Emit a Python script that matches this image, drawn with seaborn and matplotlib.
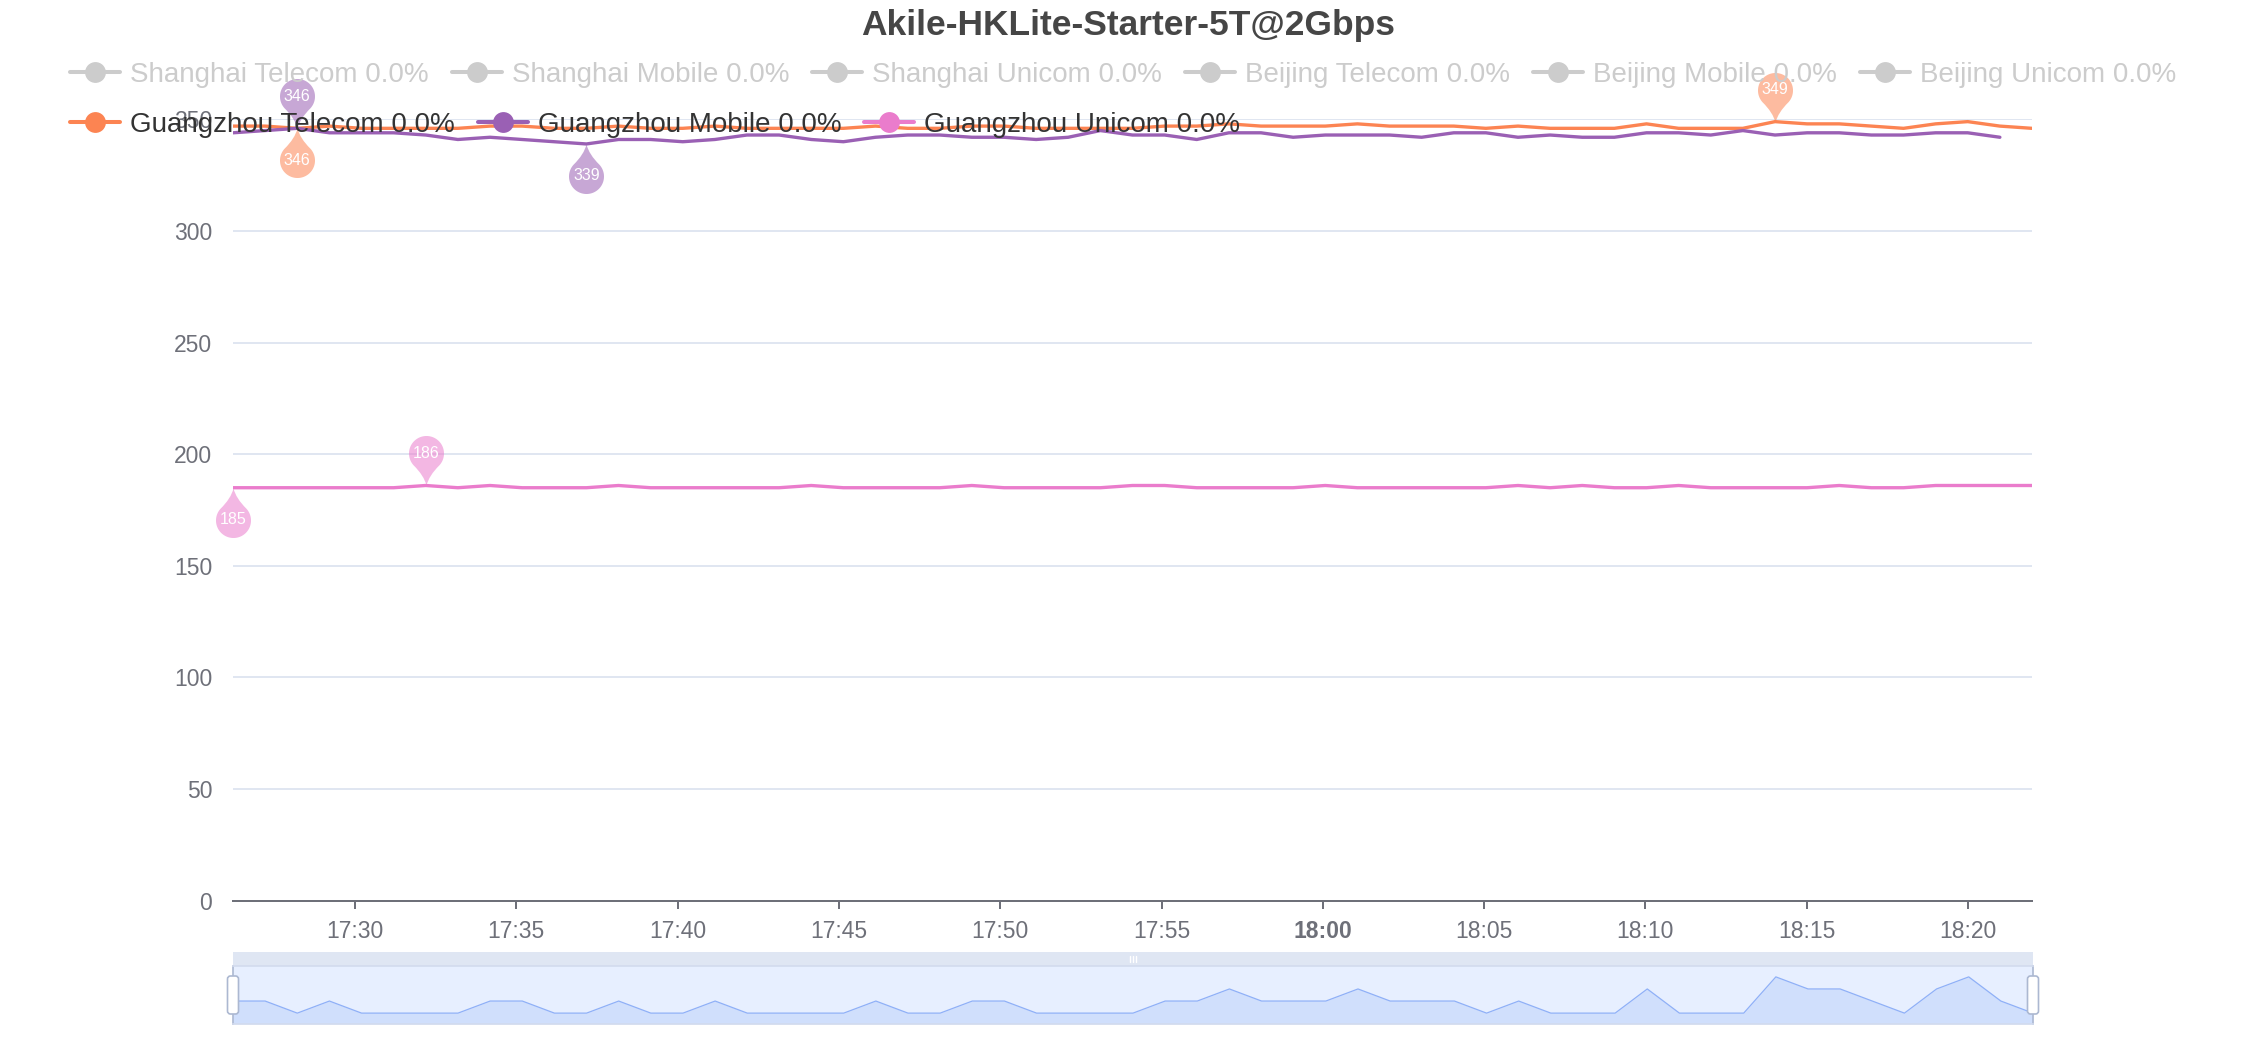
import numpy as np
import pandas as pd
import matplotlib
matplotlib.use("Agg")
import matplotlib.pyplot as plt
import matplotlib.dates as mdates
import seaborn as sns
from matplotlib.lines import Line2D
from matplotlib.path import Path
from matplotlib.markers import MarkerStyle
from matplotlib.patches import FancyBboxPatch

# ---------------- data ----------------
TITLE = "Akile-HKLite-Starter-5T@2Gbps"
START_TIME = "2024-01-01 17:26:13"
STEP_SECONDS = 59.75

hidden_names = ["Shanghai Telecom", "Shanghai Mobile", "Shanghai Unicom",
                "Beijing Telecom", "Beijing Mobile", "Beijing Unicom"]
hidden_loss = [0.0, 0.0, 0.0, 0.0, 0.0, 0.0]
visible_names = ["Guangzhou Telecom", "Guangzhou Mobile", "Guangzhou Unicom"]
visible_loss = [0.0, 0.0, 0.0]

guangzhou_telecom = [347, 347, 346, 347, 346, 346, 346, 346, 347, 347,
                     346, 346, 347, 346, 346, 347, 346, 346, 346, 346,
                     347, 346, 346, 347, 347, 346, 346, 346, 346, 347,
                     347, 348, 347, 347, 347, 348, 347, 347, 347, 346,
                     347, 346, 346, 346, 348, 346, 346, 346, 349, 348,
                     348, 347, 346, 348, 349, 347, 346]
guangzhou_mobile = [344, 345, 346, 344, 344, 344, 343, 341, 342, 341,
                    340, 339, 341, 341, 340, 341, 343, 343, 341, 340,
                    342, 343, 343, 342, 342, 341, 342, 345, 343, 343,
                    341, 344, 344, 342, 343, 343, 343, 342, 344, 344,
                    342, 343, 342, 342, 344, 344, 343, 345, 343, 344,
                    344, 343, 343, 344, 344, 342]
guangzhou_unicom = [185, 185, 185, 185, 185, 185, 186, 185, 186, 185,
                    185, 185, 186, 185, 185, 185, 185, 185, 186, 185,
                    185, 185, 185, 186, 185, 185, 185, 185, 186, 186,
                    185, 185, 185, 185, 186, 185, 185, 185, 185, 185,
                    186, 185, 186, 185, 185, 186, 185, 185, 185, 185,
                    186, 185, 185, 186, 186, 186, 186]

y_ticks = [0, 50, 100, 150, 200, 250, 300, 350]

COLORS = ["#fc8452", "#9a60b4", "#ea7ccc"]
HIDDEN_COLOR = "#cccccc"

# ---------------- style ----------------
sns.set_theme(style="white")
plt.rcParams["font.family"] = ["Liberation Sans", "DejaVu Sans"]

W_PX, H_PX, DPI = 2256, 1040, 100
fig = plt.figure(figsize=(W_PX / DPI, H_PX / DPI), dpi=DPI)
fig.patch.set_facecolor("white")

def fx(px):
    return px / W_PX

def fy(py_from_top):
    return 1 - py_from_top / H_PX

L, R = 233, 2032
TOP, BOT = 119.4, 900.7
ax = fig.add_axes([fx(L), fy(BOT), fx(R - L), (BOT - TOP) / H_PX])

times = pd.date_range(START_TIME, periods=len(guangzhou_telecom),
                      freq=pd.Timedelta(seconds=STEP_SECONDS))

series = [guangzhou_telecom, guangzhou_mobile, guangzhou_unicom]
for vals, col in zip(series, COLORS):
    sns.lineplot(x=times[:len(vals)], y=vals, ax=ax, color=col, lw=2.4,
                 zorder=3, legend=False)

tnum = mdates.date2num(times.to_pydatetime())
ax.set_xlim(tnum[0], tnum[-1])
ax.set_ylim(0, 350)
ax.set_yticks(y_ticks)
ax.set_yticklabels([str(v) for v in y_ticks])
ax.yaxis.grid(True, color="#e0e6f1", lw=1.44)
ax.xaxis.grid(False)
ax.set_axisbelow(True)
for s in ["top", "right", "left"]:
    ax.spines[s].set_visible(False)
ax.spines["bottom"].set_color("#6e7079")
ax.spines["bottom"].set_linewidth(1.44)
ax.spines["bottom"].set_zorder(4)
ax.set_xlabel("")
ax.set_ylabel("")

xt = pd.date_range(times[0].ceil("5min"), times[-1], freq="5min")
ax.set_xticks(mdates.date2num(xt.to_pydatetime()))
ax.set_xticklabels([t.strftime("%H:%M") for t in xt])
ax.tick_params(axis="x", length=6, width=1.44, color="#6e7079", pad=8,
               labelsize=16.5, labelcolor="#6e7079", bottom=True)
ax.tick_params(axis="y", length=0, pad=15, labelsize=16.5,
               labelcolor="#6e7079")
for lbl in ax.get_xticklabels():
    if lbl.get_text().endswith(":00"):
        lbl.set_fontweight("bold")

# ---------------- pins (min / max markers) ----------------
PIN_D, PIN_R = 32.0, 17.5  # px: tip-to-centre distance, balloon radius

def pin_marker(flip):
    b = np.deg2rad(48)
    th = np.linspace(-np.pi / 2 + b, 3 * np.pi / 2 - b, 80)
    xs = PIN_R * np.cos(th)
    ys = PIN_D + PIN_R * np.sin(th)
    pr = (xs[0], ys[0])
    pl = (xs[-1], ys[-1])
    verts = [(0, 0), (2.5, 10.0), pr] + list(zip(xs[1:], ys[1:])) + \
            [(-2.5, 10.0), (0, 0), (0, 0)]
    codes = [Path.MOVETO, Path.CURVE3, Path.CURVE3] + \
            [Path.LINETO] * (len(xs) - 1) + \
            [Path.CURVE3, Path.CURVE3, Path.CLOSEPOLY]
    verts = np.array(verts, dtype=float)
    if flip:
        verts[:, 1] = -verts[:, 1]
    return MarkerStyle(Path(verts, codes))

ms_pin = 2 * (PIN_D + PIN_R) * 72 / DPI
off_pt = PIN_D * 72 / DPI
for vals, col in zip(series, COLORS):
    arr = np.array(vals)
    for idx, flip in ((int(np.argmax(arr)), False), (int(np.argmin(arr)), True)):
        xv, yv = tnum[idx], arr[idx]
        ax.plot([xv], [yv], ls="none", marker=pin_marker(flip), ms=ms_pin,
                color=col, alpha=0.55, mew=0, zorder=6, clip_on=False)
        ax.annotate(str(int(yv)), xy=(xv, yv),
                    xytext=(0, -off_pt if flip else off_pt),
                    textcoords="offset points", ha="center", va="center",
                    color="white", fontsize=11.5, zorder=7,
                    annotation_clip=False)

# ---------------- title ----------------
fig.text(0.5, fy(25), TITLE, ha="center", va="center", fontsize=25.5,
         fontweight="bold", color="#464646")

# ---------------- legends ----------------
leg_kw = dict(loc="center left", frameon=False, fontsize=20, numpoints=1,
              handlelength=1.8, handletextpad=0.36, columnspacing=0.83,
              borderpad=0, borderaxespad=0)
h1 = [Line2D([], [], color=HIDDEN_COLOR, lw=2.9, marker="o", ms=15, mew=0)
      for _ in hidden_names]
l1 = [f"{n} {p:.1f}%" for n, p in zip(hidden_names, hidden_loss)]
fig.legend(h1, l1, bbox_to_anchor=(fx(70), fy(75)), ncol=6,
           labelcolor=HIDDEN_COLOR, **leg_kw)
h2 = [Line2D([], [], color=c, lw=2.9, marker="o", ms=15, mew=0)
      for c in COLORS]
l2 = [f"{n} {p:.1f}%" for n, p in zip(visible_names, visible_loss)]
fig.legend(h2, l2, bbox_to_anchor=(fx(70), fy(125)), ncol=3,
           labelcolor="#333333", **leg_kw)

# ---------------- data zoom slider ----------------
SL, SR = 233, 2033
bar_ax = fig.add_axes([fx(SL), fy(966), fx(SR - SL), 14 / H_PX])
bar_ax.set_facecolor("#dfe6f3")
bar_ax.set_xticks([]); bar_ax.set_yticks([])
for s in bar_ax.spines.values():
    s.set_visible(False)
bar_ax.set_xlim(0, 1); bar_ax.set_ylim(0, 1)
for dx in (-0.0015, 0, 0.0015):
    bar_ax.plot([0.5 + dx, 0.5 + dx], [0.3, 0.7], color="white", lw=1)

sl_ax = fig.add_axes([fx(SL), fy(1024), fx(SR - SL), (1024 - 966) / H_PX])
sl_ax.set_facecolor("#e7efff")
tel = np.array(guangzhou_telecom, dtype=float)
rng = tel.max() - tel.min()
ymin, ymax = tel.min() - 0.3 * rng, tel.max() + 0.3 * rng
sl_ax.fill_between(times, tel, ymin, color="#8fb0f7", alpha=0.25, lw=0)
sns.lineplot(x=times, y=tel, ax=sl_ax, color="#8fb0f7", lw=0.9, legend=False)
sl_ax.set_xlim(tnum[0], tnum[-1])
sl_ax.set_ylim(ymin, ymax)
sl_ax.set_xticks([]); sl_ax.set_yticks([])
sl_ax.set_xlabel(""); sl_ax.set_ylabel("")
for s in sl_ax.spines.values():
    s.set_color("#d2dbee")
    s.set_linewidth(1.2)
sl_ax.spines["left"].set_color("#acb8d1")
sl_ax.spines["right"].set_color("#acb8d1")

for cx in (SL, SR):
    hw, y0, y1 = 11, 976, 1014
    patch = FancyBboxPatch(((cx - hw / 2) / DPI, (H_PX - y1) / DPI),
                           hw / DPI, (y1 - y0) / DPI,
                           boxstyle="round,pad=0,rounding_size=0.03",
                           transform=fig.dpi_scale_trans,
                           facecolor="white", edgecolor="#acb8d1", lw=1.2,
                           zorder=10)
    fig.add_artist(patch)

fig.savefig("out.png", dpi=DPI, facecolor="white")
